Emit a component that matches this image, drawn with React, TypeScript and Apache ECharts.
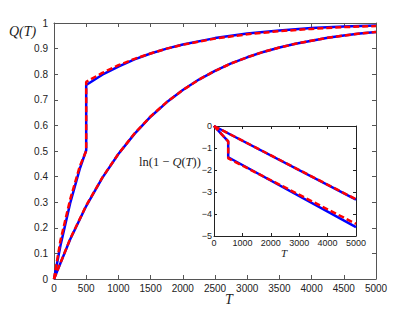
import React, { useEffect, useRef } from "react";
import * as echarts from "echarts";

// Main plot: smooth curve (no jump)
const T_SMOOTH = [0, 250, 500, 750, 1000, 1250, 1500, 1750, 2000, 2250, 2500, 2750, 3000, 3250, 3500, 3750, 4000, 4250, 4500, 4750, 5000];
const Q_SMOOTH_SIM = [0, 0.154, 0.285, 0.395, 0.488, 0.567, 0.634, 0.69, 0.738, 0.779, 0.813, 0.842, 0.866, 0.887, 0.904, 0.919, 0.931, 0.942, 0.951, 0.959, 0.965];
const Q_SMOOTH_THEORY = [0, 0.156, 0.287, 0.396, 0.489, 0.568, 0.635, 0.691, 0.738, 0.779, 0.813, 0.842, 0.866, 0.887, 0.904, 0.919, 0.931, 0.942, 0.951, 0.959, 0.965];

// Main plot: curve with jump at T = 500
const T_JUMP = [0, 100, 250, 400, 500, 500, 750, 1000, 1250, 1500, 1750, 2000, 2500, 3000, 3500, 4000, 4500, 5000];
const Q_JUMP_SIM = [0, 0.13, 0.295, 0.43, 0.503, 0.758, 0.798, 0.83, 0.858, 0.881, 0.9, 0.916, 0.941, 0.959, 0.971, 0.98, 0.986, 0.99];
const Q_JUMP_THEORY = [0, 0.15, 0.31, 0.44, 0.5, 0.77, 0.805, 0.835, 0.86, 0.881, 0.9, 0.915, 0.939, 0.956, 0.968, 0.977, 0.984, 0.988];

// Inset: ln(1 - Q(T))
const T_INSET_JUMP = [0, 500, 500, 5000];
const LN_JUMP_SIM = [0, -0.7, -1.42, -4.6];
const LN_JUMP_THEORY = [0, -0.7, -1.47, -4.45];
const T_INSET_SMOOTH = [0, 5000];
const LN_SMOOTH_SIM = [0, -3.35];
const LN_SMOOTH_THEORY = [0, -3.33];

const MAIN_X_TICKS = { min: 0, max: 5000, interval: 500 };
const MAIN_Y_TICKS = { min: 0, max: 1, interval: 0.1 };
const INSET_X_TICKS = { min: 0, max: 5000, interval: 1000 };
const INSET_Y_TICKS = { min: -5, max: 0, interval: 1 };

const pairs = (xs: number[], ys: number[]) => xs.map((x, i) => [x, ys[i]]);

const BLUE = "#0000ff";
const RED = "#ff0000";
const SANS = "Liberation Sans, Arial, sans-serif";
const SERIF = "Liberation Serif, DejaVu Serif, serif";

export default function App() {
  const ref = useRef<HTMLDivElement>(null);
  useEffect(() => {
    document.body.style.margin = "0";
    const chart = echarts.init(ref.current!, undefined, { renderer: "svg" });
    const mainAxisLine = { show: true, onZero: false, lineStyle: { color: "#555", width: 1 } };
    const insetAxisLine = { show: true, onZero: false, lineStyle: { color: "#222", width: 1 } };
    const mainTick = { show: true, inside: true, length: 4, lineStyle: { color: "#555" } };
    const insetTick = { show: true, inside: true, length: 3, lineStyle: { color: "#222" } };
    const mainLabel = { fontSize: 10, color: "#222", fontFamily: SANS };
    const insetLabel = { fontSize: 9, color: "#222", fontFamily: SANS };
    const plain = (v: number) => String(v).replace("-", "\u2212");

    const blueLine = (xAxisIndex: number, yAxisIndex: number, data: number[][], z = 2) => ({
      type: "line",
      xAxisIndex,
      yAxisIndex,
      data,
      showSymbol: false,
      symbol: "none",
      z,
      lineStyle: { color: BLUE, width: 2.5 },
    });
    const redLine = (xAxisIndex: number, yAxisIndex: number, data: number[][], z = 3) => ({
      type: "line",
      xAxisIndex,
      yAxisIndex,
      data,
      showSymbol: false,
      symbol: "none",
      z,
      lineStyle: { color: RED, width: 2.5, type: [6, 3] },
    });

    chart.setOption({
      animation: false,
      backgroundColor: "#fff",
      grid: [
        { left: 54, right: 39, top: 23, bottom: 34, show: false },
        { left: 214, right: 59, top: 126, bottom: 77, show: true, backgroundColor: "#fff", borderWidth: 0, z: 5 },
      ],
      xAxis: [
        {
          type: "value", gridIndex: 0, position: "bottom", ...MAIN_X_TICKS,
          axisLine: mainAxisLine, axisTick: mainTick, splitLine: { show: false },
          axisLabel: { ...mainLabel, margin: 4, formatter: plain },
        },
        {
          type: "value", gridIndex: 0, position: "top", ...MAIN_X_TICKS,
          axisLine: mainAxisLine, axisTick: mainTick, splitLine: { show: false },
          axisLabel: { show: false },
        },
        {
          type: "value", gridIndex: 1, position: "bottom", ...INSET_X_TICKS, z: 6,
          axisLine: insetAxisLine, axisTick: insetTick, splitLine: { show: false },
          axisLabel: { ...insetLabel, margin: 2, formatter: plain },
        },
        {
          type: "value", gridIndex: 1, position: "top", ...INSET_X_TICKS, z: 6,
          axisLine: insetAxisLine, axisTick: insetTick, splitLine: { show: false },
          axisLabel: { show: false },
        },
      ],
      yAxis: [
        {
          type: "value", gridIndex: 0, position: "left", ...MAIN_Y_TICKS,
          axisLine: mainAxisLine, axisTick: mainTick, splitLine: { show: false },
          axisLabel: { ...mainLabel, margin: 6, formatter: (v: number) => String(Math.round(v * 10) / 10) },
        },
        {
          type: "value", gridIndex: 0, position: "right", ...MAIN_Y_TICKS,
          axisLine: mainAxisLine, axisTick: mainTick, splitLine: { show: false },
          axisLabel: { show: false },
        },
        {
          type: "value", gridIndex: 1, position: "left", ...INSET_Y_TICKS, z: 6,
          axisLine: insetAxisLine, axisTick: insetTick, splitLine: { show: false },
          axisLabel: { ...insetLabel, margin: 2, formatter: plain },
        },
        {
          type: "value", gridIndex: 1, position: "right", ...INSET_Y_TICKS, z: 6,
          axisLine: insetAxisLine, axisTick: insetTick, splitLine: { show: false },
          axisLabel: { show: false },
        },
      ],
      series: [
        blueLine(0, 0, pairs(T_SMOOTH, Q_SMOOTH_SIM)),
        redLine(0, 0, pairs(T_SMOOTH, Q_SMOOTH_THEORY)),
        blueLine(0, 0, pairs(T_JUMP, Q_JUMP_SIM)),
        redLine(0, 0, pairs(T_JUMP, Q_JUMP_THEORY)),
        blueLine(2, 2, pairs(T_INSET_SMOOTH, LN_SMOOTH_SIM), 7),
        redLine(2, 2, pairs(T_INSET_SMOOTH, LN_SMOOTH_THEORY), 8),
        blueLine(2, 2, pairs(T_INSET_JUMP, LN_JUMP_SIM), 7),
        redLine(2, 2, pairs(T_INSET_JUMP, LN_JUMP_THEORY), 8),
      ],
      graphic: [
        {
          type: "text", left: 9, top: 24, z: 10,
          style: { text: "Q(T)", font: `italic 14px ${SERIF}`, fill: "#222" },
        },
        {
          type: "text", x: 229, y: 299, z: 10,
          style: { text: "T", font: `italic 14px ${SERIF}`, fill: "#222", align: "center", verticalAlign: "middle" },
        },
        {
          type: "text", x: 284, y: 253, z: 10,
          style: { text: "T", font: `italic 11px ${SERIF}`, fill: "#222", align: "center", verticalAlign: "middle" },
        },
        {
          type: "text", x: 139, y: 162, z: 10,
          style: {
            text: "{a|ln(1 \u2212 }{b|Q}{a|(}{b|T}{a|))}",
            verticalAlign: "middle",
            rich: {
              a: { fontFamily: SERIF, fontSize: 12.5, fill: "#222" },
              b: { fontFamily: SERIF, fontSize: 12.5, fontStyle: "italic", fill: "#222" },
            },
          },
        },
      ],
    });
    return () => chart.dispose();
  }, []);
  return <div ref={ref} style={{ width: 415, height: 313, position: "fixed", left: 0, top: 0 }} />;
}
